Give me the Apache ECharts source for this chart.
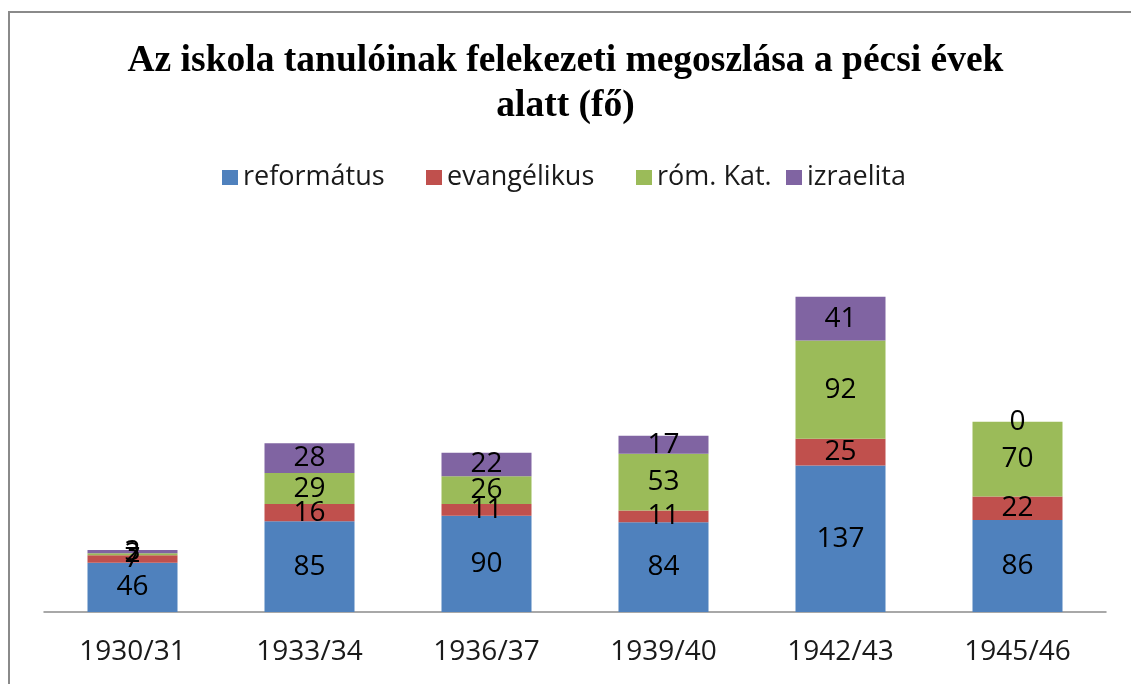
<!DOCTYPE html>
<html>
<head>
<meta charset="utf-8">
<script src="https://cdn.jsdelivr.net/npm/echarts@6/dist/echarts.min.js"></script>
<style>
  html, body { margin: 0; padding: 0; background: #fff; }
  #chart { width: 1131px; height: 684px; }
</style>
</head>
<body>
<div id="chart"></div>
<script>
// School years and pupil counts by denomination (persons)
const years = ['1930/31', '1933/34', '1936/37', '1939/40', '1942/43', '1945/46'];
const reformatus = [46, 85, 90, 84, 137, 86];
const evangelikus = [7, 16, 11, 11, 25, 22];
const romKat = [2, 29, 26, 53, 92, 70];
const izraelita = [3, 28, 22, 17, 41, 0];

const seriesNames = ['református', 'evangélikus', 'róm. Kat.', 'izraelita'];
const seriesData = [reformatus, evangelikus, romKat, izraelita];
const colors = ['#4F81BD', '#C0504D', '#9BBB59', '#8064A2'];

const bodyFont = '"Open Sans", "DejaVu Sans", sans-serif';

// one legend box per entry so each sits at its own x position
const legendLefts = [222, 426, 636, 786];
const legends = seriesNames.map((name, i) => ({
  top: 164,
  left: legendLefts[i],
  padding: 0,
  itemWidth: 16,
  itemHeight: 15,
  itemGap: 0,
  icon: 'rect',
  selectedMode: false,
  textStyle: {
    fontFamily: bodyFont,
    fontSize: 27,
    color: '#1a1a1a'
  },
  data: [name]
}));

const chart = echarts.init(document.getElementById('chart'), null, { renderer: 'canvas' });

chart.setOption({
  backgroundColor: '#ffffff',
  animation: false,
  color: colors,
  title: {
    text: 'Az iskola tanulóinak felekezeti megoszlása a pécsi évek\nalatt (fő)',
    left: 'center',
    top: 39,
    padding: 0,
    textStyle: {
      fontFamily: '"Liberation Serif", "Times New Roman", serif',
      fontWeight: 'bold',
      fontSize: 37.5,
      lineHeight: 45,
      color: '#000'
    }
  },
  legend: legends,
  graphic: [{
    type: 'rect',
    shape: { x: 9, y: 12, width: 1200, height: 800 },
    style: { fill: 'none', stroke: '#8a8a8a', lineWidth: 2 },
    silent: true,
    z: 0
  }],
  grid: {
    left: 44,
    right: 25,
    top: 270,
    bottom: 72,
    containLabel: false
  },
  xAxis: {
    type: 'category',
    data: years,
    axisLine: { show: true, lineStyle: { color: '#8c8c8c', width: 1.5 } },
    axisTick: { show: false },
    axisLabel: {
      margin: 26,
      fontFamily: bodyFont,
      fontSize: 28,
      color: '#1a1a1a'
    }
  },
  yAxis: {
    type: 'value',
    min: 0,
    max: 320,
    show: false,
    splitLine: { show: false }
  },
  series: seriesNames.map((name, i) => ({
    name: name,
    type: 'bar',
    stack: 'total',
    barWidth: 90,
    data: seriesData[i],
    itemStyle: { color: colors[i] },
    label: {
      show: true,
      position: 'inside',
      fontFamily: bodyFont,
      fontSize: 28,
      color: '#000'
    }
  }))
});
</script>
</body>
</html>
